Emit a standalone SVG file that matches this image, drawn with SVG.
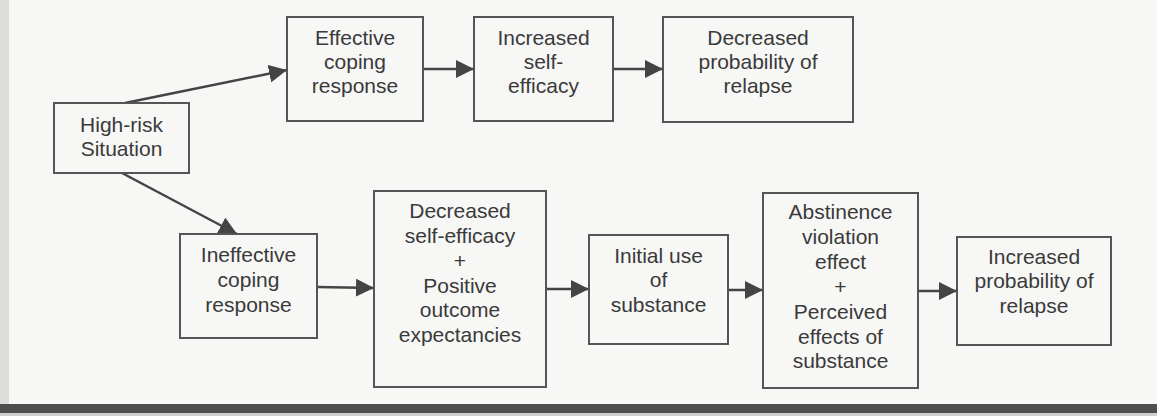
<svg xmlns="http://www.w3.org/2000/svg" width="1157" height="416" viewBox="0 0 1157 416">
<style>
.box{fill:none;stroke:#555;stroke-width:2}
.lbl{font-family:"Liberation Sans",Arial,sans-serif;font-size:21px;fill:#3a3a3a;text-anchor:middle}
.edge{stroke:#444;stroke-width:2.5;fill:none;marker-end:url(#ah)}
</style>
<defs>
<marker id="ah" markerUnits="userSpaceOnUse" markerWidth="19" markerHeight="18" refX="18" refY="9" orient="auto">
<path d="M0,0 L18,9 L0,18 z" fill="#444"/>
</marker>
</defs>
<rect x="0" y="0" width="1157" height="416" fill="#f7f7f5"/>
<rect x="0" y="0" width="9" height="404" fill="#dcdcda"/>
<rect x="0" y="404" width="1157" height="9" fill="#4e4e4e"/>
<rect x="0" y="413" width="1157" height="3" fill="#cfcfcd"/>
<g id="connectors">
<line class="edge" x1="125" y1="103" x2="287" y2="70"/>
<line class="edge" x1="423" y1="69" x2="474" y2="69"/>
<line class="edge" x1="613" y1="69" x2="663" y2="69"/>
<line class="edge" x1="122" y1="173" x2="237" y2="234"/>
<line class="edge" x1="317" y1="287" x2="374" y2="288"/>
<line class="edge" x1="546" y1="289" x2="589" y2="289"/>
<line class="edge" x1="728" y1="290" x2="763" y2="290"/>
<line class="edge" x1="918" y1="291" x2="957" y2="291"/>
</g>
<g id="high-risk">
<rect class="box" x="54" y="103" width="135" height="70"/>
<text class="lbl" x="121.5" y="132">High-risk</text>
<text class="lbl" x="121.5" y="156">Situation</text>
</g>
<g id="effective-coping">
<rect class="box" x="287" y="17" width="136" height="104"/>
<text class="lbl" x="355" y="45">Effective</text>
<text class="lbl" x="355" y="69">coping</text>
<text class="lbl" x="355" y="93">response</text>
</g>
<g id="increased-self-efficacy">
<rect class="box" x="474" y="17" width="139" height="104"/>
<text class="lbl" x="543.5" y="45">Increased</text>
<text class="lbl" x="543.5" y="69">self-</text>
<text class="lbl" x="543.5" y="93">efficacy</text>
</g>
<g id="decreased-probability">
<rect class="box" x="663" y="17" width="190" height="105"/>
<text class="lbl" x="758" y="45">Decreased</text>
<text class="lbl" x="758" y="69">probability of</text>
<text class="lbl" x="758" y="93">relapse</text>
</g>
<g id="ineffective-coping">
<rect class="box" x="180" y="234" width="137" height="104"/>
<text class="lbl" x="248.5" y="262">Ineffective</text>
<text class="lbl" x="248.5" y="287">coping</text>
<text class="lbl" x="248.5" y="312">response</text>
</g>
<g id="decreased-self-efficacy">
<rect class="box" x="374" y="191" width="172" height="196"/>
<text class="lbl" x="460" y="218">Decreased</text>
<text class="lbl" x="460" y="243">self-efficacy</text>
<text class="lbl" x="460" y="268">+</text>
<text class="lbl" x="460" y="293">Positive</text>
<text class="lbl" x="460" y="317">outcome</text>
<text class="lbl" x="460" y="342">expectancies</text>
</g>
<g id="initial-use">
<rect class="box" x="589" y="235" width="139" height="109"/>
<text class="lbl" x="658.5" y="263">Initial use</text>
<text class="lbl" x="658.5" y="287">of</text>
<text class="lbl" x="658.5" y="312">substance</text>
</g>
<g id="abstinence-violation">
<rect class="box" x="763" y="193" width="155" height="195"/>
<text class="lbl" x="840.5" y="219">Abstinence</text>
<text class="lbl" x="840.5" y="244">violation</text>
<text class="lbl" x="840.5" y="269">effect</text>
<text class="lbl" x="840.5" y="294">+</text>
<text class="lbl" x="840.5" y="319">Perceived</text>
<text class="lbl" x="840.5" y="344">effects of</text>
<text class="lbl" x="840.5" y="368">substance</text>
</g>
<g id="increased-probability">
<rect class="box" x="957" y="237" width="154" height="108"/>
<text class="lbl" x="1034" y="264">Increased</text>
<text class="lbl" x="1034" y="288">probability of</text>
<text class="lbl" x="1034" y="313">relapse</text>
</g>
</svg>
